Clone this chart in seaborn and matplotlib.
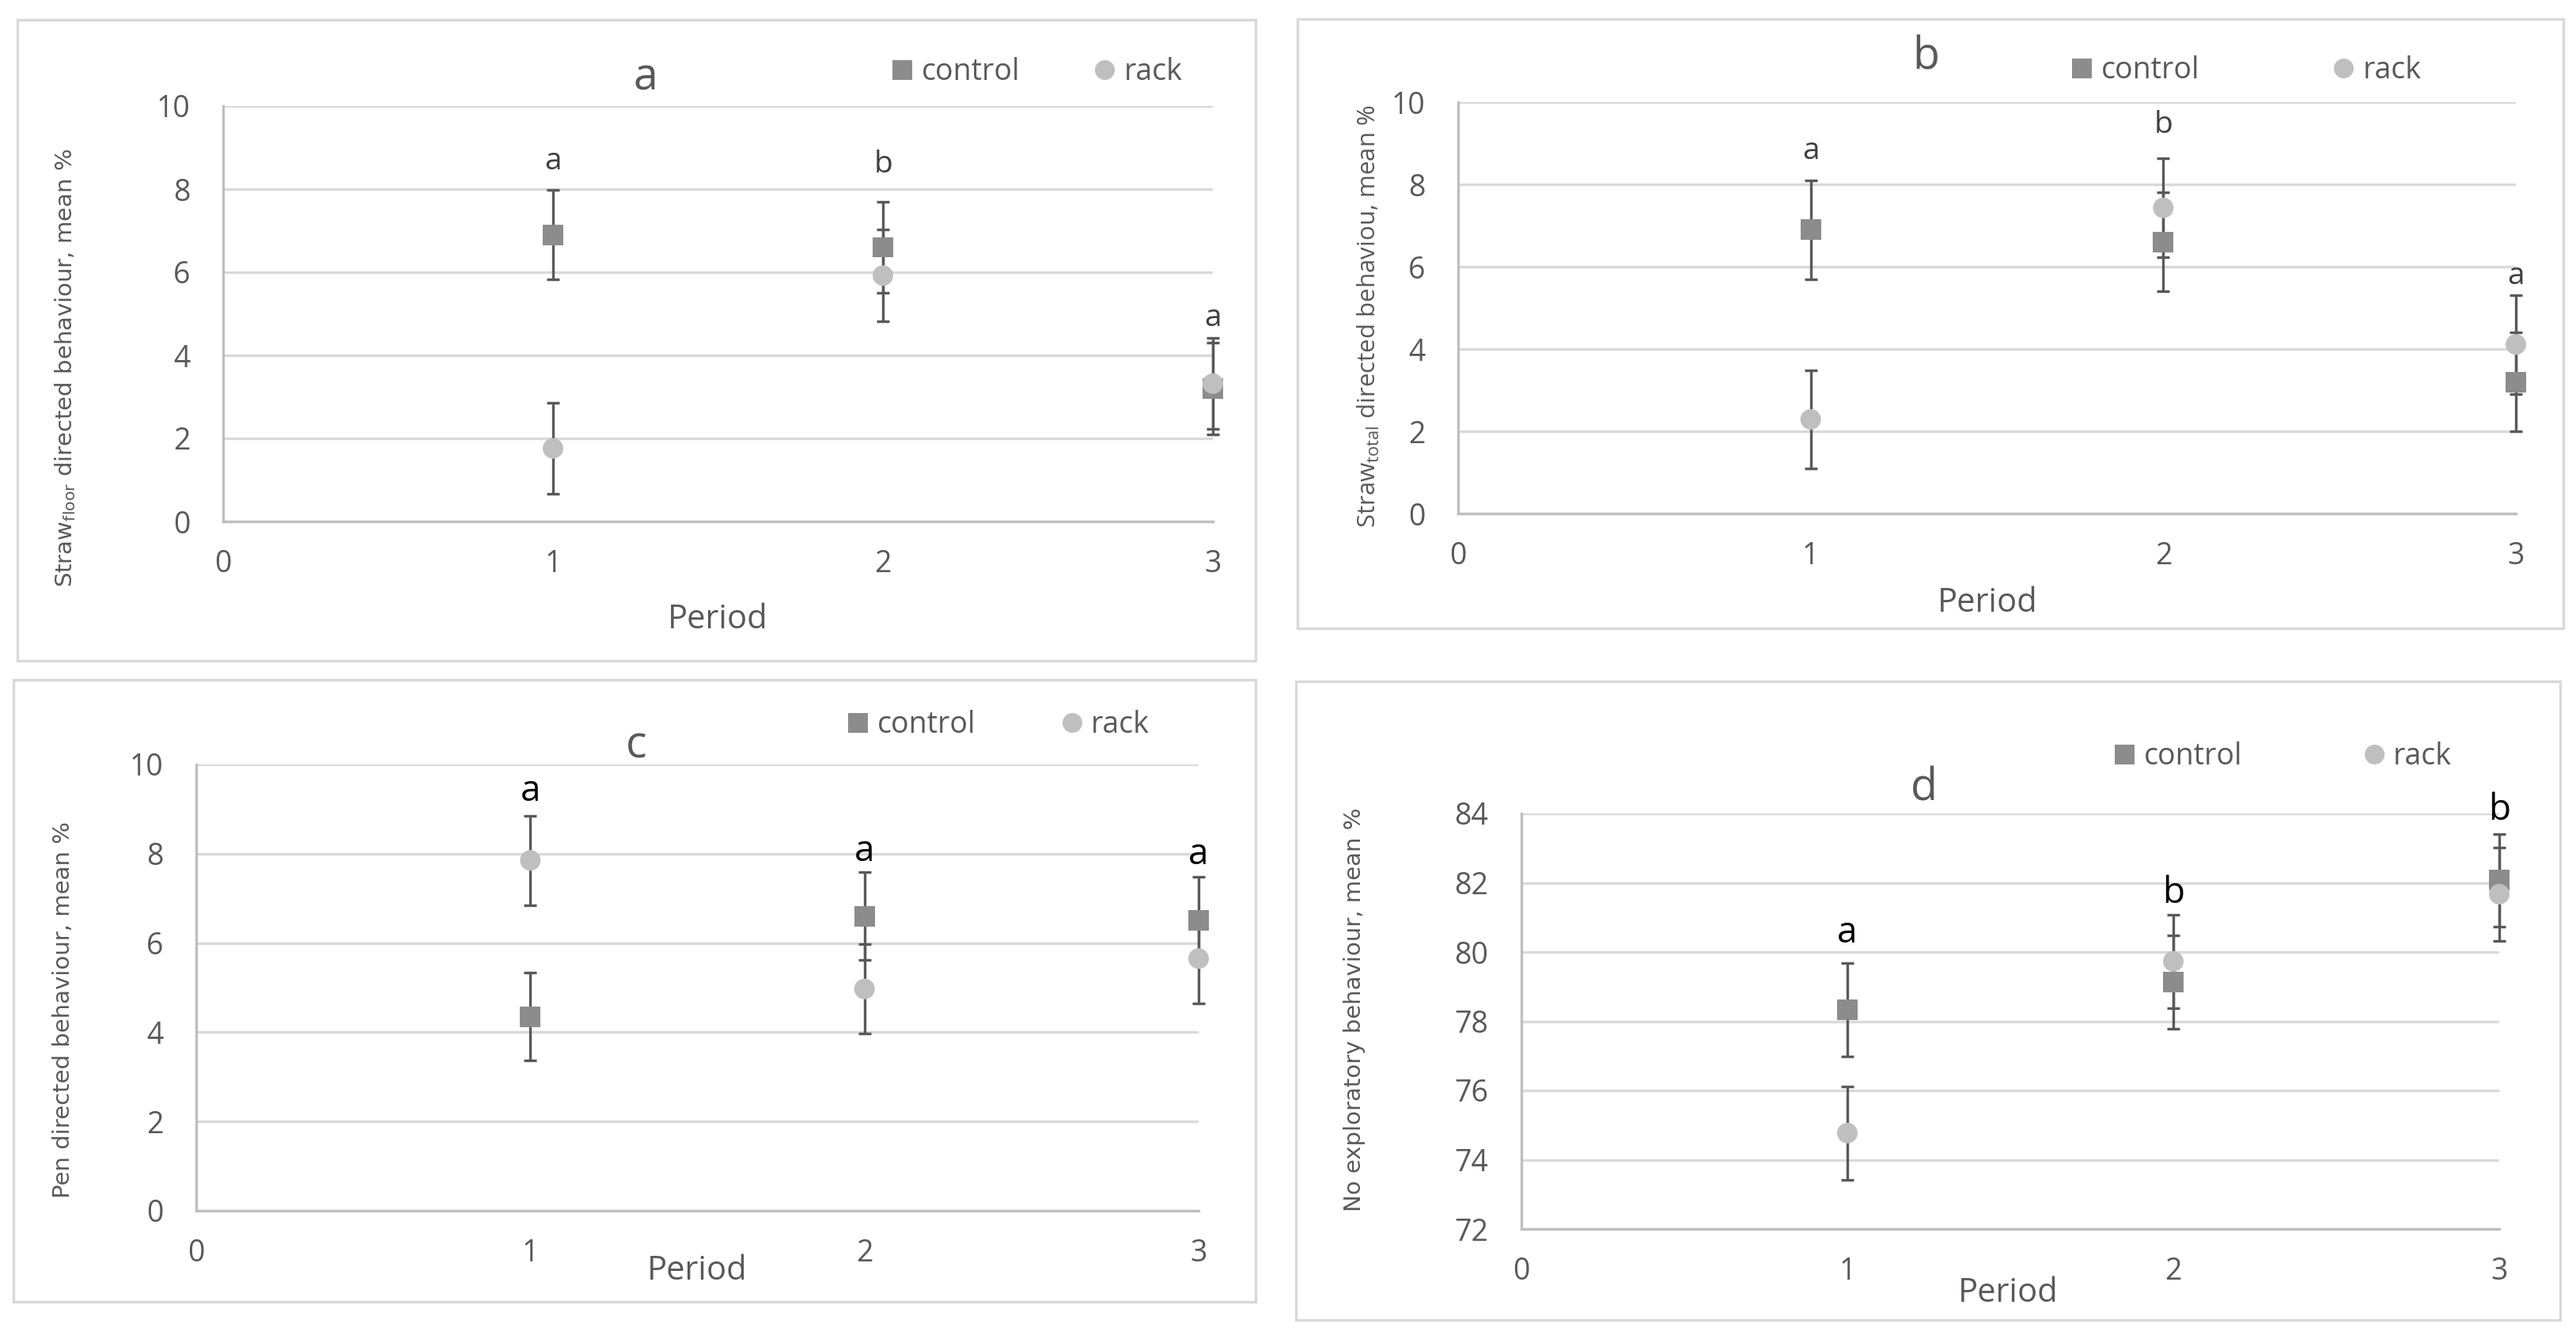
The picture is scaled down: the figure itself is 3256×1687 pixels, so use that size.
import matplotlib
matplotlib.use('Agg')
import matplotlib.pyplot as plt
import matplotlib.patches as mpatches
from matplotlib.lines import Line2D
import pandas as pd
import seaborn as sns

# ---- data ----
periods = [1, 2, 3]
groups = ['control', 'rack']

a_control = [6.90, 6.60, 3.20]
a_control_err = [1.08, 1.10, 1.10]
a_rack = [1.76, 5.92, 3.32]
a_rack_err = [1.10, 1.10, 1.10]
a_letters = ['a', 'b', 'a']
a_letter_y = [8.67, 8.60, 4.90]

b_control = [6.90, 6.60, 3.20]
b_control_err = [1.20, 1.20, 1.20]
b_rack = [2.29, 7.43, 4.11]
b_rack_err = [1.20, 1.20, 1.20]
b_letters = ['a', 'b', 'a']
b_letter_y = [8.81, 9.45, 5.76]

c_control = [4.35, 6.60, 6.50]
c_control_err = [0.98, 0.98, 0.98]
c_rack = [7.85, 4.97, 5.65]
c_rack_err = [1.00, 1.00, 1.00]
c_letters = ['a', 'a', 'a']
c_letter_y = [9.39, 8.05, 7.97]

d_control = [78.33, 79.13, 82.07]
d_control_err = [1.34, 1.34, 1.34]
d_rack = [74.77, 79.73, 81.67]
d_rack_err = [1.35, 1.35, 1.35]
d_letters = ['a', 'b', 'b']
d_letter_y = [80.55, 81.70, 84.10]

ylabels = [r'Straw$_{\mathregular{floor}}$ directed behaviour, mean %',
           r'Straw$_{\mathregular{total}}$ directed behaviou, mean %',
           'Pen directed behaviour, mean %',
           'No exploratory behaviour, mean %']
titles = ['a', 'b', 'c', 'd']

W, H = 3256, 1687
GRID = '#D9D9D9'
TXT = '#595959'

sns.set_style('white')
plt.rcParams['font.family'] = ['Open Sans', 'DejaVu Sans']
plt.rcParams['mathtext.fontset'] = 'custom'

fig = plt.figure(figsize=(W / 100, H / 100), dpi=100)


def fx(x):
    return x / W


def fy(y):
    return 1 - y / H


# layout in pixels: panel box, plot area, text anchors
layout = [
    dict(box=(22, 25, 1587, 835), area=(282, 134, 1533, 659), ylim=(0, 10),
         title=(816, 99), xlab=(907, 783), ylab=(83, 465), leg=(1127, 91, 2.5), yfont='DejaVu Sans',
         ysize=21, lcol='#404040', lsize=28),
    dict(box=(1640, 24, 3240, 794), area=(1843, 129, 3180, 649), ylim=(0, 10),
         title=(2434, 73), xlab=(2512, 762), ylab=(1730, 400), leg=(2618, 89, 4.5), yfont='Open Sans',
         ysize=22.5, lcol='#404040', lsize=28),
    dict(box=(17, 859, 1587, 1645), area=(248, 966, 1515, 1530), ylim=(0, 10),
         title=(804, 943), xlab=(881, 1606), ylab=(80, 1276), leg=(1071, 916, 2.9), yfont='DejaVu Sans',
         ysize=21, lcol='#000000', lsize=33),
    dict(box=(1638, 861, 3236, 1668), area=(1923, 1028, 3159, 1553), ylim=(72, 84),
         title=(2432, 997), xlab=(2538, 1634), ylab=(1712, 1276), leg=(2672, 956, 4.1), yfont='DejaVu Sans',
         ysize=21, lcol='#000000', lsize=33),
]

series = [
    (a_control, a_control_err, a_rack, a_rack_err, a_letters, a_letter_y),
    (b_control, b_control_err, b_rack, b_rack_err, b_letters, b_letter_y),
    (c_control, c_control_err, c_rack, c_rack_err, c_letters, c_letter_y),
    (d_control, d_control_err, d_rack, d_rack_err, d_letters, d_letter_y),
]

palette = {'control': '#8C8C8C', 'rack': '#BFBFBF'}
markers = {'control': 's', 'rack': 'o'}

for i, (lay, (ctl, ctl_err, rck, rck_err, letters, letter_y)) in enumerate(zip(layout, series)):
    x0, y0, x1, y1 = lay['box']
    fig.patches.append(mpatches.Rectangle((fx(x0), fy(y1)), (x1 - x0) / W, (y1 - y0) / H,
                                          transform=fig.transFigure, fill=False,
                                          edgecolor=GRID, linewidth=2.4))

    l, t, r, b = lay['area']
    ax = fig.add_axes([fx(l), fy(b), (r - l) / W, (b - t) / H])

    df = pd.DataFrame({
        'period': periods * 2,
        'value': ctl + rck,
        'err': ctl_err + rck_err,
        'group': ['control'] * 3 + ['rack'] * 3,
    })

    ax.errorbar(df.period, df.value, yerr=df.err, fmt='none', ecolor='#595959',
                elinewidth=2.4, capsize=6, capthick=2.4, zorder=2, clip_on=False)
    sns.scatterplot(data=df, x='period', y='value', hue='group', style='group',
                    markers=markers, palette=palette, s=350, linewidth=0,
                    legend=False, ax=ax, zorder=3, clip_on=False)

    lo, hi = lay['ylim']
    ax.set_xlim(0, 3)
    ax.set_ylim(lo, hi)
    ax.set_xticks([0, 1, 2, 3])
    ax.set_yticks(range(lo, hi + 1, 2))
    ax.yaxis.grid(True, color=GRID, linewidth=2.4)
    ax.xaxis.grid(False)
    ax.set_axisbelow(True)
    for s in ['top', 'right']:
        ax.spines[s].set_visible(False)
    for s in ['left', 'bottom']:
        ax.spines[s].set_color('#BFBFBF')
        ax.spines[s].set_linewidth(2.4)
    ax.tick_params(axis='both', length=0, labelsize=27, labelcolor=TXT)
    ax.tick_params(axis='y', pad=30)
    ax.tick_params(axis='x', pad=25)
    ax.set_xlabel('')
    ax.set_ylabel('')

    for x, y, txt in zip(periods, letter_y, letters):
        ax.text(x, y, txt, ha='center', va='center', fontsize=lay['lsize'], color=lay['lcol'])

    tx, ty = lay['title']
    fig.text(fx(tx), fy(ty), titles[i], ha='center', va='center', fontsize=40, color=TXT)
    px, py = lay['xlab']
    fig.text(fx(px), fy(py), 'Period', ha='center', va='center', fontsize=30, color=TXT)
    yx, yy = lay['ylab']
    fig.text(fx(yx), fy(yy), ylabels[i], ha='center', va='center', rotation=90,
             fontsize=lay['ysize'], color=TXT, family=[lay['yfont'], 'DejaVu Sans'])

    handles = [Line2D([], [], linestyle='none', marker=markers[g], markersize=18,
                      markerfacecolor=palette[g], markeredgewidth=0, label=g) for g in groups]
    lgx, lgy, cs = lay['leg']
    ax.legend(handles=handles, loc='center left', bbox_to_anchor=(fx(lgx), fy(lgy)),
              bbox_transform=fig.transFigure, ncol=2, frameon=False, fontsize=27,
              labelcolor=TXT, handlelength=0.7, handletextpad=0.3, columnspacing=cs,
              borderpad=0, borderaxespad=0)

fig.savefig('out.png', dpi=100, facecolor='white')
